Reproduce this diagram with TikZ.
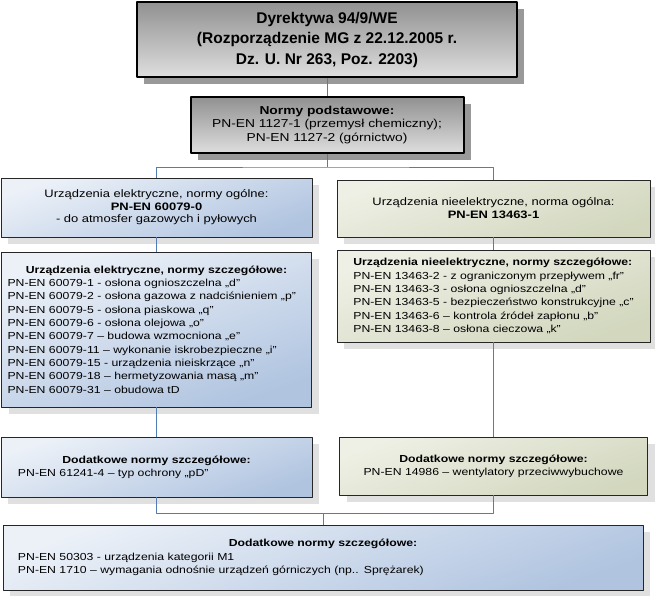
\documentclass[tikz,border=0pt]{standalone}
\usepackage{fontspec}
\setmainfont{Liberation Sans}
\newfontfamily\widefont[FakeStretch=1.2]{Liberation Sans}
\usetikzlibrary{shadows}
\usetikzlibrary{positioning}
\definecolor{linkblue}{RGB}{79,125,180}
\definecolor{grayhi}{RGB}{222,222,222}
\definecolor{graylo}{RGB}{145,145,145}
\definecolor{bluehi}{RGB}{236,241,248}
\definecolor{bluelo}{RGB}{176,196,224}
\definecolor{greenhi}{RGB}{238,240,229}
\definecolor{greenlo}{RGB}{210,215,190}
\newcommand{\hdr}[1]{\makebox[\linewidth][c]{\bfseries #1}}
\tikzstyle{every node}=[font=\widefont\fontsize{10.2}{13.3}\selectfont]
\tikzstyle{every path}=[line join=round]
\tikzstyle{graybox}=[draw=black, line width=2.2pt, top color=graylo, bottom color=grayhi,
  drop shadow={shadow xshift=7pt, shadow yshift=-7pt, fill=black!40, opacity=1}]
\tikzstyle{bluebox}=[draw=black!85, line width=0.9pt, top color=bluehi, bottom color=bluelo, shading angle=20,
  drop shadow={shadow xshift=7pt, shadow yshift=-7pt, fill=black!12, opacity=1}]
\tikzstyle{greenbox}=[draw=black!85, line width=0.9pt, top color=greenhi, bottom color=greenlo, shading angle=20,
  drop shadow={shadow xshift=7pt, shadow yshift=-7pt, fill=black!12, opacity=1}]
\tikzstyle{link}=[draw=linkblue, line width=1pt]

\begin{document}
\begin{tikzpicture}[x=1pt,y=-1pt]
  \useasboundingbox (0,0) rectangle (655,595);
  % dyrektywa i normy podstawowe
  \node[graybox, minimum width=380pt, minimum height=75pt, align=center,
    font=\fontsize{15.5}{20.5}\selectfont\bfseries] (dyr) at (327,39.5)
    {Dyrektywa 94/9/WE\\(Rozporządzenie MG z 22.12.2005 r.\\Dz. U. Nr 263, Poz. 2203)};
  \node[graybox, line width=2pt, minimum width=273pt, minimum height=56pt, align=center,
    font=\widefont\fontsize{11.5}{13.5}\selectfont] (podst) at (327,125)
    {\textbf{Normy podstawowe:}\\PN-EN 1127-1 (przemysł chemiczny);\\PN-EN 1127-2 (górnictwo)};
  % urzadzenia elektryczne
  \node[bluebox, minimum width=311pt, minimum height=59pt, align=center,
    font=\widefont\fontsize{10.8}{12.5}\selectfont] (el0) at (156.5,207.5)
    {Urządzenia elektryczne, normy ogólne:\\\textbf{PN-EN 60079-0}\\- do atmosfer gazowych i pyłowych};
  \node[bluebox, minimum width=310pt, minimum height=155pt, text width=298pt, inner xsep=6pt, align=left] (el1) at (156.5,329.5)
    {\hdr{Urządzenia elektryczne, normy szczegółowe:}\\
     PN-EN 60079-1 - osłona ognioszczelna „d”\\
     PN-EN 60079-2 - osłona gazowa z nadciśnieniem „p”\\
     PN-EN 60079-5 - osłona piaskowa „q”\\
     PN-EN 60079-6 - osłona olejowa „o”\\
     PN-EN 60079-7 – budowa wzmocniona „e”\\
     PN-EN 60079-11 – wykonanie iskrobezpieczne „i”\\
     PN-EN 60079-15 - urządzenia nieiskrzące „n”\\
     PN-EN 60079-18 – hermetyzowania masą „m”\\
     PN-EN 60079-31 – obudowa tD};
  \node[bluebox, minimum width=311pt, minimum height=60pt, text width=277pt, inner xsep=17pt, align=left] (el2) at (156.5,467)
    {\hdr{Dodatkowe normy szczegółowe:}\\PN-EN 61241-4 – typ ochrony „pD”\\[4pt]};
  % urzadzenia nieelektryczne
  \node[greenbox, minimum width=313pt, minimum height=57pt, align=center,
    font=\widefont\fontsize{10.8}{13}\selectfont] (nel0) at (493.5,208.5)
    {Urządzenia nieelektryczne, norma ogólna:\\\textbf{PN-EN 13463-1}};
  \node[greenbox, minimum width=313pt, minimum height=92pt, align=left] (nel1) at (493.5,296)
    {\textbf{Urządzenia nieelektryczne, normy szczegółowe:}\\
     PN-EN 13463-2 - z ograniczonym przepływem „fr”\\
     PN-EN 13463-3 - osłona ognioszczelna „d”\\
     PN-EN 13463-5 - bezpieczeństwo konstrukcyjne „c”\\
     PN-EN 13463-6 – kontrola źródeł zapłonu „b”\\
     PN-EN 13463-8 – osłona cieczowa „k”};
  \node[greenbox, minimum width=308pt, minimum height=58pt, align=center] (nel2) at (493.5,466)
    {\textbf{Dodatkowe normy szczegółowe:}\\PN-EN 14986 – wentylatory przeciwwybuchowe};
  % wspolne
  \node[bluebox, minimum width=640pt, minimum height=65pt, text width=610pt, inner xsep=15pt, align=left] (dod) at (323,557.5)
    {\hdr{Dodatkowe normy szczegółowe:}\\
     PN-EN 50303 - urządzenia kategorii M1\\
     PN-EN 1710 – wymagania odnośnie urządzeń górniczych (np.. Sprężarek)};
  % polaczenia
  \coordinate (split) at (327,167);
  \coordinate (join) at (323,513);
  \draw[link] (dyr.south) -- (podst.north);
  \draw[link] (podst.south) -- (split);
  \draw[link] (el0.north) |- (split) -| (nel0.north);
  \draw[link] (el0.south) -- (el1.north);
  \draw[link] (el1.south) -- (el2.north);
  \draw[link] (nel0.south) -- (nel1.north);
  \draw[link] (nel1.south) -- (nel2.north);
  \draw[link] (el2.south) |- (join) -| (nel2.south);
  \draw[link] (join) -- (dod.north);
\end{tikzpicture}
\end{document}
